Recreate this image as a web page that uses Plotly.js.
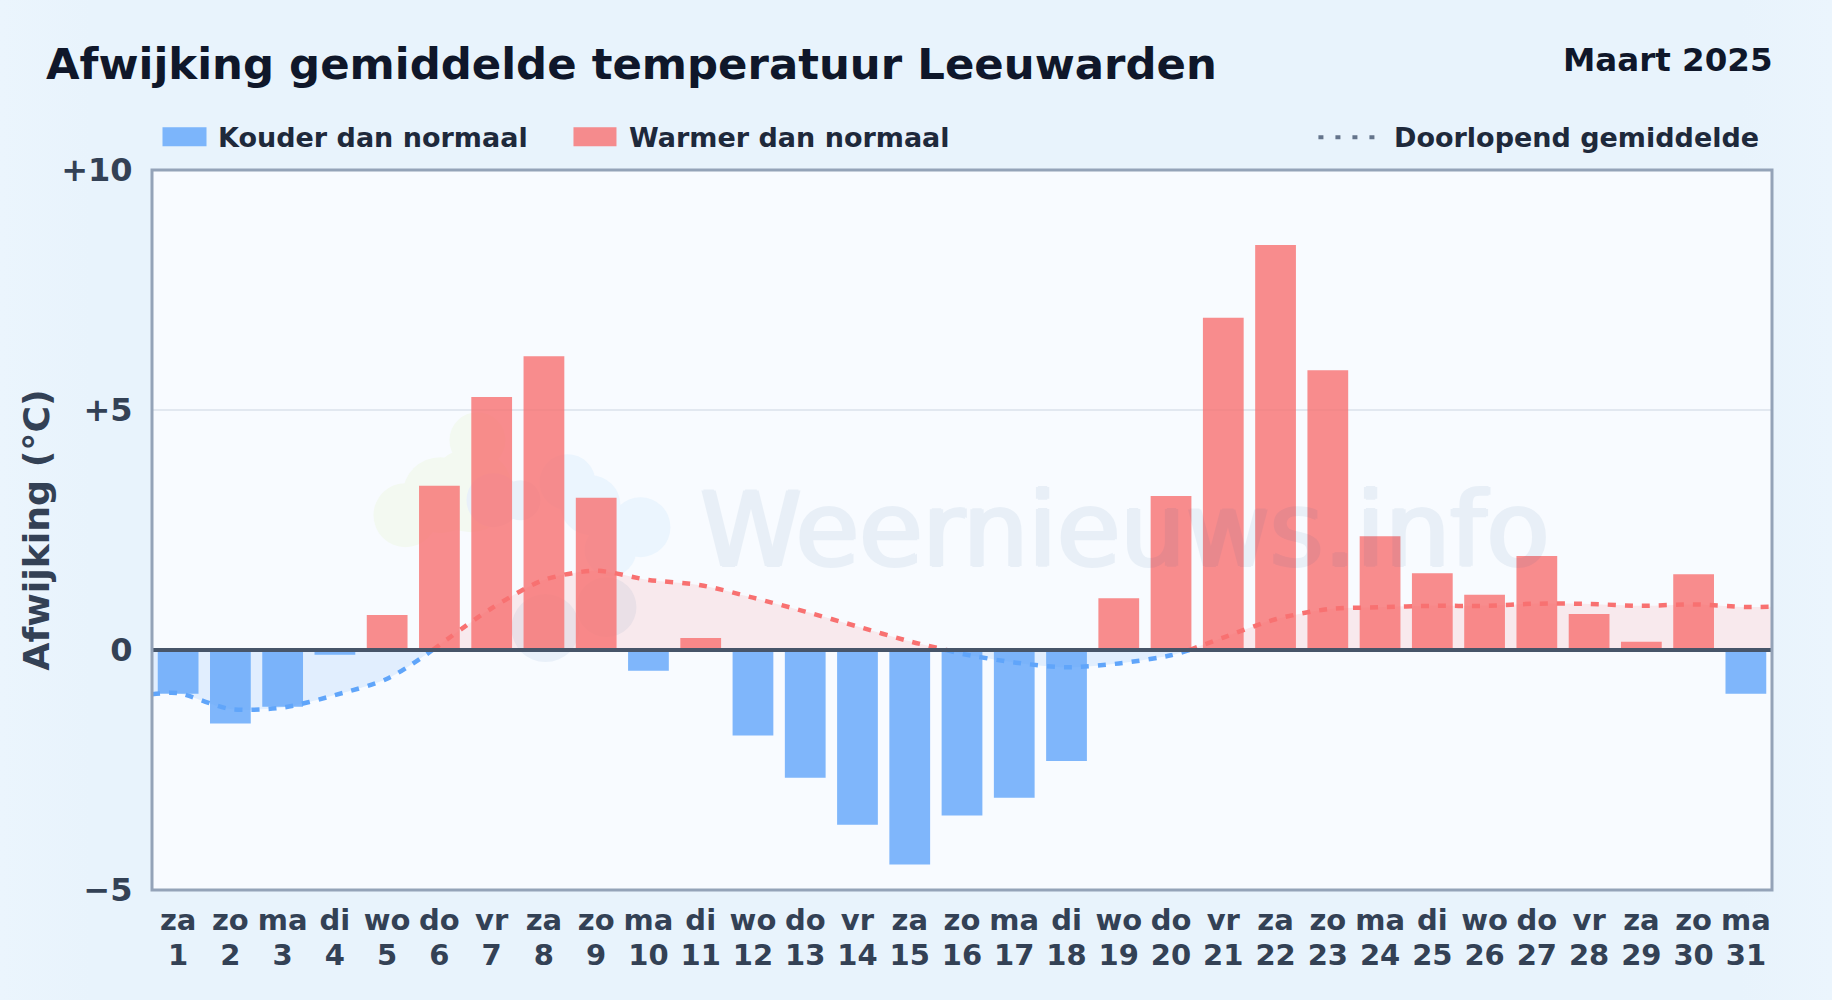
<!DOCTYPE html>
<html>
<head>
<meta charset="utf-8">
<script src="https://cdn.plot.ly/plotly-3.0.1.min.js"></script>
<style>
html,body{margin:0;padding:0;width:1832px;height:1000px;overflow:hidden;background:linear-gradient(90deg,#ebf5fd 0%,#e8f3fc 5%,#e8f3fc 95%,#ebf5fd 100%);}
#chart{width:1832px;height:1000px;}
</style>
</head>
<body>
<div id="chart"></div>
<script>
const titleText = "Afwijking gemiddelde temperatuur Leeuwarden";
const periodText = "Maart 2025";
const yAxisLabel = "Afwijking (°C)";
const legendCold = "Kouder dan normaal";
const legendWarm = "Warmer dan normaal";
const legendTrend = "Doorlopend gemiddelde";
const watermark = "Weernieuws.info";

const weekdays = ["za","zo","ma","di","wo","do","vr","za","zo","ma","di","wo","do","vr","za","zo","ma","di","wo","do","vr","za","zo","ma","di","wo","do","vr","za","zo","ma"];
const days = [1,2,3,4,5,6,7,8,9,10,11,12,13,14,15,16,17,18,19,20,21,22,23,24,25,26,27,28,29,30,31];
const anomalies = [-0.91,-1.53,-1.18,-0.10,0.73,3.42,5.27,6.12,3.17,-0.43,0.25,-1.78,-2.66,-3.64,-4.47,-3.45,-3.08,-2.31,1.08,3.21,6.92,8.44,5.83,2.37,1.60,1.15,1.96,0.75,0.17,1.58,-0.91];

const trendColdAx = [0.5,1,2,3,4,5,5.87];
const trendColdAy = [-0.92,-0.90,-1.23,-1.20,-0.94,-0.60,0];
const trendWarmAx = [5.87,7,8,9,10,11,12,13,14,15,15.7];
const trendWarmAy = [0,0.87,1.46,1.65,1.46,1.35,1.09,0.80,0.49,0.18,0];
const trendColdBx = [15.7,16,17,18,19,20,20.35];
const trendColdBy = [0,-0.08,-0.26,-0.36,-0.28,-0.11,0];
const trendWarmBx = [20.35,21,22,23,24,25,26,27,28,29,30,31,31.5];
const trendWarmBy = [0,0.26,0.64,0.85,0.89,0.92,0.92,0.965,0.96,0.92,0.95,0.895,0.90];

const yTicks = [-5,0,5,10];
const yTickText = ["−5","0","+5","+10"];

const W=1832,H=1000,L=151.5,R=1771.6,T=169.7,B=890;
const PW=R-L,PH=B-T;
const FONT='"DejaVu Sans", sans-serif';
const px=x=>(x-L)/PW, py=y=>1-(y-T)/PH;

const COLD='rgba(96,165,250,0.8)', WARM='rgba(248,113,113,0.8)';
const coldIdx=days.map((d,i)=>i).filter(i=>anomalies[i]<0);
const warmIdx=days.map((d,i)=>i).filter(i=>anomalies[i]>=0);

function bar(idx,color,name){
  return {type:'bar',x:idx.map(i=>days[i]),y:idx.map(i=>anomalies[i]),width:0.78,name,
    marker:{color,line:{width:0}},showlegend:false,hoverinfo:'x+y'};
}
function trend(x,y,line,fill,name){
  return {type:'scatter',mode:'lines',x,y,xaxis:'x2',name,showlegend:false,fill:'tozeroy',fillcolor:fill,
    line:{color:line,width:4.5,dash:'8px,9px',shape:'spline',smoothing:0.8},hoverinfo:'skip'};
}
const FC='rgba(96,165,250,0.15)',FW='rgba(248,113,113,0.13)';
const traces=[
  bar(coldIdx,COLD,legendCold),
  bar(warmIdx,WARM,legendWarm),
  trend(trendColdAx,trendColdAy,'#60a5fa',FC,legendTrend),
  trend(trendWarmAx,trendWarmAy,'#f87171',FW,legendTrend),
  trend(trendColdBx,trendColdBy,'#60a5fa',FC,legendTrend),
  trend(trendWarmBx,trendWarmBy,'#f87171',FW,legendTrend)
];

function blob(cx,cy,r,color){
  return {type:'circle',xref:'paper',yref:'paper',layer:'below',x0:px(cx-r),x1:px(cx+r),y0:py(cy+r),y1:py(cy-r),
    fillcolor:color,line:{width:0}};
}
const GREEN='#f3f9f1',LBLUE='#ebf5fe',GBLUE='#e9f0f9';
const shapes=[
  blob(405,515,32,GREEN),blob(440,495,38,GREEN),blob(477,440,28,GREEN),blob(470,490,42,GREEN),
  blob(567,482,28,LBLUE),blob(590,505,30,LBLUE),blob(640,527,30,LBLUE),blob(610,550,26,LBLUE),
  blob(493,500,27,GBLUE),blob(520,500,20,GBLUE),blob(606,607,30,GBLUE),blob(545,628,34,GBLUE),
  // zero line
  {type:'line',xref:'paper',yref:'y',x0:0,x1:1,y0:0,y1:0,layer:'above',line:{color:'#475569',width:4}},
  // plot frame
  {type:'rect',xref:'paper',yref:'paper',x0:0,x1:1,y0:0,y1:1,layer:'above',line:{color:'#94a3b8',width:3}},
  // legend swatches
  {type:'rect',xref:'paper',yref:'paper',x0:px(162),x1:px(206),y0:py(146),y1:py(127),fillcolor:COLD,line:{width:0}},
  {type:'rect',xref:'paper',yref:'paper',x0:px(573),x1:px(616),y0:py(146),y1:py(127),fillcolor:WARM,line:{width:0}},
  {type:'line',xref:'paper',yref:'paper',x0:px(1318),x1:px(1376),y0:py(137),y1:py(137),line:{color:'#64748b',width:4,dash:'5px,12px'}}
];
function label(text,x,y,size,color,anchor){
  return {xref:'paper',yref:'paper',x:px(x),y:py(y),text,showarrow:false,xanchor:anchor,yanchor:'middle',
    font:{family:FONT,size,color,weight:700}};
}
const WM='#1e5a96';
const annotations=[
  {xref:'paper',yref:'paper',x:px(1124.5),y:py(530),text:watermark,showarrow:false,xanchor:'center',yanchor:'middle',opacity:0.065,
    font:{family:FONT,size:103,color:WM,weight:400,shadow:'2px 0 0 '+WM+', -2px 0 0 '+WM+', 0 1px 0 '+WM+', 0 -1px 0 '+WM}},
  label(periodText,1774.5,60,32.5,'#0f172a','right'),
  label(legendCold,216,137,27,'#1e293b','left'),
  label(legendWarm,627,137,27,'#1e293b','left'),
  label(legendTrend,1392,137,27,'#1e293b','left')
];

const xCommon={range:[0.5,31.5],tickmode:'array',tickvals:days,tickangle:0,showgrid:false,zeroline:false,showline:false,
  ticks:'outside',tickcolor:'rgba(0,0,0,0)',tickfont:{family:FONT,size:29,color:'#334155',weight:700}};
const layout={
  width:W,height:H,autosize:false,
  paper_bgcolor:'rgba(0,0,0,0)',plot_bgcolor:'#f8fbff',
  margin:{l:L,r:W-R,t:T,b:H-B,pad:0},
  barmode:'overlay',showlegend:false,
  title:{text:titleText,xref:'container',yref:'container',x:46/W,xanchor:'left',y:1-64/H,yanchor:'middle',
    font:{family:FONT,size:43.4,color:'#0f172a',weight:700}},
  xaxis:Object.assign({},xCommon,{ticktext:weekdays,ticklen:4}),
  xaxis2:Object.assign({},xCommon,{ticktext:days.map(String),ticklen:39,overlaying:'x',side:'bottom',anchor:'y'}),
  yaxis:{range:[-5,10],tickmode:'array',tickvals:yTicks,ticktext:yTickText,
    tickfont:{family:FONT,size:32,color:'#334155',weight:700},showgrid:true,gridcolor:'#e2e8f0',gridwidth:2,zeroline:false,
    showline:false,ticks:'outside',ticklen:12,tickcolor:'rgba(0,0,0,0)',
    title:{text:yAxisLabel,standoff:0,font:{family:FONT,size:36.3,color:'#334155',weight:700}}},
  shapes,annotations
};
Plotly.newPlot('chart',traces,layout,{displayModeBar:false,responsive:false});
</script>
</body>
</html>
